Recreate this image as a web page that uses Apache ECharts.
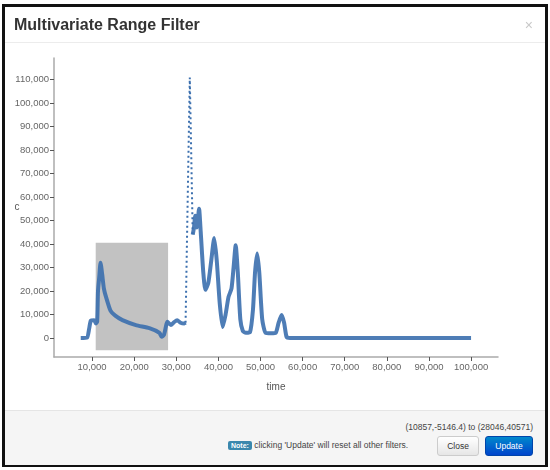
<!DOCTYPE html>
<html>
<head>
<meta charset="utf-8">
<script src="https://cdn.jsdelivr.net/npm/echarts@6/dist/echarts.min.js"></script>
<style>
  body { margin: 0; font-family: "Liberation Sans", Arial, sans-serif; }
  #wrap { position: relative; width: 550px; height: 470px; background: #fff; overflow: hidden; }
  #frame { position: absolute; left: 2px; top: 4px; width: 546px; height: 463px; box-sizing: border-box;
           border: 3px solid #111; background: #fff; }
  #head { position: absolute; left: 5px; top: 7px; width: 540px; height: 35px; border-bottom: 1px solid #ececec; z-index: 2; }
  #head .ttl { position: absolute; left: 9px; top: 9px; font-size: 16px; font-weight: bold; color: #333; }
  #head .x { position: absolute; right: 12px; top: 10px; font-size: 14px; color: #c8c8c8; }
  #chart { position: absolute; left: 0; top: 0; width: 550px; height: 470px; z-index: 1; }
  #foot { position: absolute; left: 5px; top: 410px; width: 540px; height: 54px; background: #f5f5f5;
          border-top: 1px solid #e5e5e5; z-index: 2; font-size: 8.5px; color: #444; }
  #foot .coords { position: absolute; right: 12px; top: 11px; }
  #foot .note { position: absolute; left: 223px; top: 29px; }
  #foot .badge { display: inline-block; background: #3a87ad; color: #fff; border-radius: 2px; padding: 1px 3px; font-weight: bold; font-size: 7px; }
  .btn { position: absolute; top: 25px; height: 20px; box-sizing: border-box; border-radius: 3px; font-size: 8.5px;
         line-height: 18px; text-align: center; }
  #close { left: 432px; width: 42px; background: linear-gradient(#fff, #e6e6e6); border: 1px solid #ccc; color: #333; }
  #update { left: 480px; width: 48px; background: linear-gradient(#0088cc, #0044cc); border: 1px solid #0044aa; color: #fff; }
</style>
</head>
<body>
<div id="wrap">
  <div id="frame"></div>
  <div id="head"><span class="ttl">Multivariate Range Filter</span><span class="x">×</span></div>
  <div id="chart"></div>
  <div id="foot">
    <span class="coords">(10857,-5146.4) to (28046,40571)</span>
    <span class="note"><span class="badge">Note:</span> clicking 'Update' will reset all other filters.</span>
    <div class="btn" id="close">Close</div>
    <div class="btn" id="update">Update</div>
  </div>
</div>
<script>
// values
const mainTime = [7300, 8800, 9300, 9700, 10500, 10900, 11200, 11400, 11700, 12000, 12400, 12800, 13300,
  14400, 15500, 17200, 20400, 23600, 26000, 26500, 27100, 27900, 28700, 29500, 30200, 31000, 31900, 32200,
  33100,
  33900, 34200, 34500, 34900, 35400, 35800, 36400, 36900, 37600, 38300, 39000, 39600, 40300, 41000,
  41700, 42400, 43100, 43600, 44100, 44600, 45200, 45800, 46500, 47500, 48200, 48700, 49200, 49700,
  50400, 51200, 52500, 53600, 54300, 55000, 55600, 56200, 57000, 100000]
const mainC = [0, 200, 4000, 7400, 7600, 6200, 7000, 20000, 26000, 32000, 27000, 21000, 17500,
  11500, 9500, 7600, 5500, 4200, 2200, 500, 1500, 6900, 5500, 6800, 7600, 6500, 6200, 6500,
  null,
  44000, 47000, 52000, 47000, 55000, 45000, 28000, 20500, 23500, 33000, 42500, 33000, 15000, 4700,
  10000, 17500, 21000, 30000, 39500, 28000, 8000, 3000, 2200, 2500, 12000, 28000, 36000, 28000,
  8000, 2200, 2000, 2200, 6500, 9800, 6500, 400, 0, 0]

// the sparse jump up to the big peak
const spikeTime = [32200, 33200, 33900]
const spikeC = [6500, 110800, 44000]

// brush selection
const brushFrom = [10857, -5146.4]
const brushTo = [28046, 40571]

const xTicks = [10000, 20000, 30000, 40000, 50000, 60000, 70000, 80000, 90000, 100000]
const yTicks = [0, 10000, 20000, 30000, 40000, 50000, 60000, 70000, 80000, 90000, 100000, 110000]

const lineColor = '#3b6fae'
const fmt = v => Number(v).toLocaleString('en-US')

const myChart = echarts.init(document.getElementById('chart'))

const axisCommon = {
  type: 'value',
  splitLine: { show: false },
  axisLine: { show: true, onZero: false, lineStyle: { color: '#aaa', width: 1.5 } },
  axisTick: { show: true, length: 4, lineStyle: { color: '#555' } },
  nameMoveOverlap: false,
  nameTextStyle: { color: '#555', fontSize: 10 }
}

myChart.setOption({
  animation: false,
  grid: { left: 54, right: 52, top: 58, bottom: 113 },
  xAxis: Object.assign({}, axisCommon, {
    min: 950, max: 106400,
    name: 'time', nameLocation: 'middle', nameGap: 25,
    axisTick: Object.assign({}, axisCommon.axisTick, { customValues: xTicks }),
    axisLabel: { customValues: xTicks, formatter: fmt, color: '#666', fontSize: 9.5, margin: 5 }
  }),
  yAxis: Object.assign({}, axisCommon, {
    min: -8070, max: 119100,
    name: 'c', nameLocation: 'middle', nameGap: 37, nameRotate: 0,
    nameTextStyle: { color: '#555', fontSize: 10, align: 'center' },
    axisTick: Object.assign({}, axisCommon.axisTick, { customValues: yTicks }),
    axisLabel: { customValues: yTicks, formatter: fmt, color: '#666', fontSize: 9.5, margin: 5 }
  }),
  series: [
    {
      type: 'line', z: 1, data: [], silent: true,
      markArea: {
        silent: true,
        itemStyle: { color: '#c2c2c2', opacity: 1 },
        data: [[{ coord: brushFrom }, { coord: brushTo }]]
      }
    },
    {
      type: 'line', z: 3,
      data: spikeTime.map((t, i) => [t, spikeC[i]]),
      showSymbol: false,
      lineStyle: { color: lineColor, width: 2, type: [2, 3] }
    },
    {
      type: 'line', z: 4,
      data: mainTime.map((t, i) => [t, mainC[i]]),
      smooth: 0.2,
      connectNulls: false,
      showSymbol: false,
      lineStyle: { color: lineColor, width: 4, opacity: 0.9 }
    }
  ]
})
window.addEventListener('resize', myChart.resize)
</script>
</body>
</html>
